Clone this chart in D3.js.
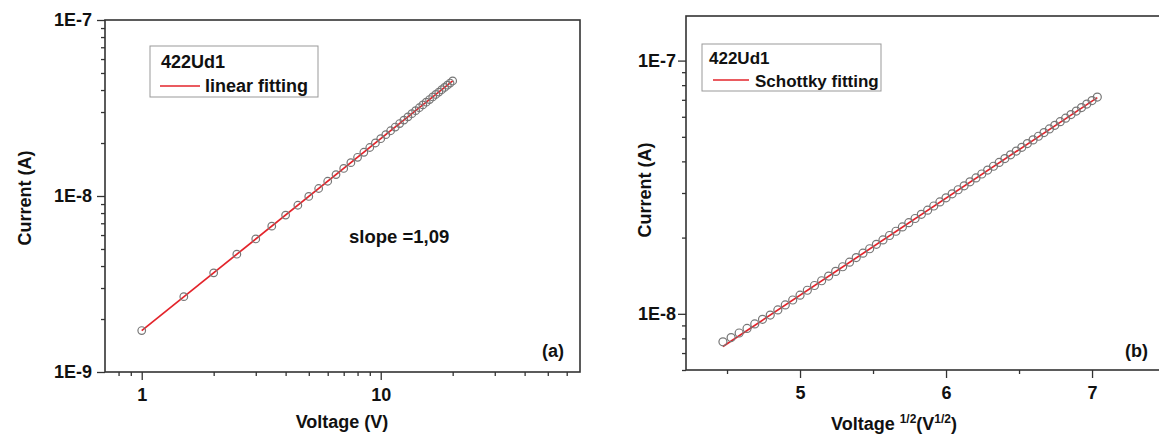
<!DOCTYPE html>
<html>
<head>
<meta charset="utf-8">
<script src="https://cdn.jsdelivr.net/npm/d3@7"></script>
<style>
  body { margin: 0; background: #fff; }
  svg text { font-family: "Liberation Sans", Arial, sans-serif; font-weight: bold; fill: #111; }
</style>
</head>
<body>
<div id="chart"></div>
<script>
// panel (a): voltage (V) and current (nA)
var voltageA = [1, 1.5, 2, 2.5, 3, 3.5, 4, 4.5, 5, 5.5, 6, 6.5, 7, 7.5, 8, 8.5, 9, 9.5, 10, 10.5,
  11, 11.5, 12, 12.5, 13, 13.5, 14, 14.5, 15, 15.5, 16, 16.5, 17, 17.5, 18, 18.5, 19, 19.5, 20];
var currentA = [1.72, 2.68, 3.66, 4.67, 5.70, 6.74, 7.79, 8.86, 9.94, 11.03, 12.13, 13.23, 14.34, 15.47,
  16.59, 17.72, 18.86, 20.01, 21.16, 22.32, 23.48, 24.64, 25.81, 26.99, 28.17, 29.35, 30.54, 31.73,
  32.93, 34.12, 35.32, 36.53, 37.74, 38.94, 40.16, 41.38, 42.60, 43.82, 45.05];
var fitVoltageA = [1, 20];
var fitCurrentA = [1.72, 45.05];

// panel (b): sqrt(voltage) and current (nA)
var sqrtVoltageB = [4.472, 4.528, 4.583, 4.637, 4.690, 4.743, 4.796, 4.848, 4.899, 4.950, 5.000,
  5.050, 5.099, 5.148, 5.196, 5.244, 5.292, 5.339, 5.385, 5.431, 5.477, 5.523, 5.568, 5.613, 5.657,
  5.701, 5.745, 5.788, 5.831, 5.874, 5.916, 5.958, 6.000, 6.042, 6.083, 6.124, 6.164, 6.205, 6.245,
  6.285, 6.325, 6.364, 6.403, 6.442, 6.481, 6.519, 6.557, 6.596, 6.633, 6.671, 6.708, 6.745, 6.782,
  6.819, 6.856, 6.892, 6.928, 6.964, 7.000, 7.036];
var currentB = [7.75, 8.06, 8.40, 8.76, 9.12, 9.51, 9.89, 10.36, 10.84, 11.34, 11.85, 12.39, 12.94,
  13.51, 14.10, 14.71, 15.34, 15.99, 16.67, 17.36, 18.07, 18.82, 19.58, 20.38, 21.19, 22.03, 22.90,
  23.79, 24.72, 25.67, 26.66, 27.67, 28.71, 29.78, 30.90, 32.03, 33.20, 34.41, 35.66, 36.94, 38.26,
  39.62, 41.02, 42.45, 43.93, 45.45, 47.01, 48.63, 50.27, 51.97, 53.72, 55.52, 57.36, 59.26, 61.21,
  63.21, 65.26, 67.36, 69.53, 71.76];
var fitSqrtB = [4.472, 7.036];
var fitCurrentB = [7.43, 71.4];

var yTickLabelsA = ["1E-9", "1E-8", "1E-7"];
var yTickValuesA = [1e-9, 1e-8, 1e-7];
var xTickValuesA = [1, 10];
var yTickLabelsB = ["1E-8", "1E-7"];
var yTickValuesB = [1e-8, 1e-7];
var xTickValuesB = [5, 6, 7];

var svgWidth = 1159;
var svgHeight = 434;

var svg = d3.select("#chart")
  .append("svg")
  .attr("width", svgWidth)
  .attr("height", svgHeight);

svg.append("rect").attr("width", svgWidth).attr("height", svgHeight).attr("fill", "#fff");

var nA = 1e-9;
var frameColor = "#333";
var markerColor = "#777";
var fitColor = "#e3242b";
var labelSize = 18;

// ---------- panel (a) ----------
var boxA = { left: 105, right: 580, top: 20, bottom: 372 };

var xA = d3.scaleLog().domain([0.702, 68.2]).range([boxA.left, boxA.right]);
var yA = d3.scaleLog().domain([1e-9, 1e-7]).range([boxA.bottom, boxA.top]);

function drawPanel(g, box, x, y, opt) {
  // frame
  g.append("rect")
    .attr("x", box.left).attr("y", box.top)
    .attr("width", box.right - box.left).attr("height", box.bottom - box.top)
    .attr("fill", "none").attr("stroke", frameColor).attr("stroke-width", 1.6);

  // minor ticks
  g.append("g")
    .attr("transform", `translate(0, ${box.bottom})`)
    .call(d3.axisBottom(x).tickValues(opt.xMinor).tickSize(4).tickFormat("").tickSizeOuter(0))
    .call(s => s.select(".domain").remove());
  g.append("g")
    .attr("transform", `translate(${box.left}, 0)`)
    .call(d3.axisLeft(y).tickValues(opt.yMinor).tickSize(4).tickFormat("").tickSizeOuter(0))
    .call(s => s.select(".domain").remove());

  // major ticks
  var bx = g.append("g")
    .attr("transform", `translate(0, ${box.bottom})`)
    .call(d3.axisBottom(x).tickValues(opt.xMajor).tickSize(8).tickPadding(8).tickFormat(d3.format("d")).tickSizeOuter(0));
  bx.select(".domain").remove();
  bx.selectAll("text").attr("font-size", labelSize);

  var ly = g.append("g")
    .attr("transform", `translate(${box.left}, 0)`)
    .call(d3.axisLeft(y).tickValues(opt.yMajor).tickSize(8).tickPadding(opt.yPad)
      .tickFormat((d, i) => opt.yLabels[i]).tickSizeOuter(0));
  ly.select(".domain").remove();
  ly.selectAll("text").attr("font-size", labelSize);

  g.selectAll(".tick line").attr("stroke", frameColor).attr("stroke-width", 1.3);
  g.selectAll(".tick text").attr("fill", "#111").attr("font-family", null);
}

var gA = svg.append("g");
drawPanel(gA, boxA, xA, yA, {
  xMajor: xTickValuesA,
  xMinor: xA.ticks().filter(d => xTickValuesA.indexOf(d) < 0),
  yMajor: yTickValuesA,
  yMinor: yA.ticks().filter(d => yTickValuesA.indexOf(d) < 0),
  yLabels: yTickLabelsA,
  yPad: 5
});

var fitLineA = d3.line().x(d => xA(d[0])).y(d => yA(d[1] * nA));
gA.append("path")
  .datum(d3.zip(fitVoltageA, fitCurrentA))
  .attr("d", fitLineA)
  .attr("fill", "none").attr("stroke", fitColor).attr("stroke-width", 1.7);

gA.selectAll("circle")
  .data(d3.zip(voltageA, currentA))
  .enter()
  .append("circle")
  .attr("cx", d => xA(d[0]))
  .attr("cy", d => yA(d[1] * nA))
  .attr("r", 3.8)
  .attr("fill", "none")
  .attr("stroke", markerColor)
  .attr("stroke-width", 1.2);

// legend (a)
gA.append("rect").attr("x", 150).attr("y", 46).attr("width", 168).attr("height", 51)
  .attr("fill", "#fff").attr("stroke", "#999").attr("stroke-width", 1);
gA.append("text").attr("x", 161).attr("y", 68).attr("font-size", 18).text("422Ud1");
gA.append("line").attr("x1", 160).attr("x2", 200).attr("y1", 86).attr("y2", 86)
  .attr("stroke", fitColor).attr("stroke-width", 1.7);
gA.append("text").attr("x", 205).attr("y", 92).attr("font-size", 18).text("linear fitting");

gA.append("text").attr("x", 349).attr("y", 243).attr("font-size", 18.5).text("slope =1,09");
gA.append("text").attr("x", 564).attr("y", 357).attr("text-anchor", "end").attr("font-size", labelSize).text("(a)");

gA.append("text")
  .attr("transform", "rotate(-90)")
  .attr("x", -198).attr("y", 31)
  .attr("text-anchor", "middle").attr("font-size", labelSize)
  .text("Current (A)");
gA.append("text").attr("x", 342).attr("y", 428).attr("text-anchor", "middle").attr("font-size", labelSize)
  .text("Voltage (V)");

// ---------- panel (b) ----------
var boxB = { left: 686, right: 1163, top: 16, bottom: 370 };

var xB = d3.scaleLinear().domain([4.219, 7.486]).range([boxB.left, boxB.right]);
var yB = d3.scaleLog().domain([6e-9, 1.5e-7]).range([boxB.bottom, boxB.top]);

var gB = svg.append("g");
drawPanel(gB, boxB, xB, yB, {
  xMajor: xTickValuesB,
  xMinor: [4.5, 5.5, 6.5, 7.5],
  yMajor: yTickValuesB,
  yMinor: yB.ticks().filter(d => yTickValuesB.indexOf(d) < 0),
  yLabels: yTickLabelsB,
  yPad: 2
});

var fitLineB = d3.line().x(d => xB(d[0])).y(d => yB(d[1] * nA));
gB.append("path")
  .datum(d3.zip(fitSqrtB, fitCurrentB))
  .attr("d", fitLineB)
  .attr("fill", "none").attr("stroke", fitColor).attr("stroke-width", 1.7);

gB.selectAll("circle")
  .data(d3.zip(sqrtVoltageB, currentB))
  .enter()
  .append("circle")
  .attr("cx", d => xB(d[0]))
  .attr("cy", d => yB(d[1] * nA))
  .attr("r", 4)
  .attr("fill", "none")
  .attr("stroke", markerColor)
  .attr("stroke-width", 1.2);

// legend (b)
gB.append("rect").attr("x", 702).attr("y", 44).attr("width", 179).attr("height", 47)
  .attr("fill", "#fff").attr("stroke", "#999").attr("stroke-width", 1);
gB.append("text").attr("x", 709).attr("y", 64).attr("font-size", 17).text("422Ud1");
gB.append("line").attr("x1", 713).attr("x2", 749).attr("y1", 80).attr("y2", 80)
  .attr("stroke", fitColor).attr("stroke-width", 1.7);
gB.append("text").attr("x", 755).attr("y", 87).attr("font-size", 17).text("Schottky fitting");

gB.append("text").attr("x", 1148).attr("y", 357).attr("text-anchor", "end").attr("font-size", labelSize).text("(b)");

gB.append("text")
  .attr("transform", "rotate(-90)")
  .attr("x", -190).attr("y", 651)
  .attr("text-anchor", "middle").attr("font-size", labelSize)
  .text("Current (A)");

var xTitleB = gB.append("text").attr("x", 894).attr("y", 430).attr("text-anchor", "middle").attr("font-size", labelSize);
xTitleB.append("tspan").text("Voltage ");
xTitleB.append("tspan").attr("font-size", 12).attr("dy", -7).text("1/2");
xTitleB.append("tspan").attr("dy", 7).text("(V");
xTitleB.append("tspan").attr("font-size", 12).attr("dy", -7).text("1/2");
xTitleB.append("tspan").attr("dy", 7).text(")");
</script>
</body>
</html>
